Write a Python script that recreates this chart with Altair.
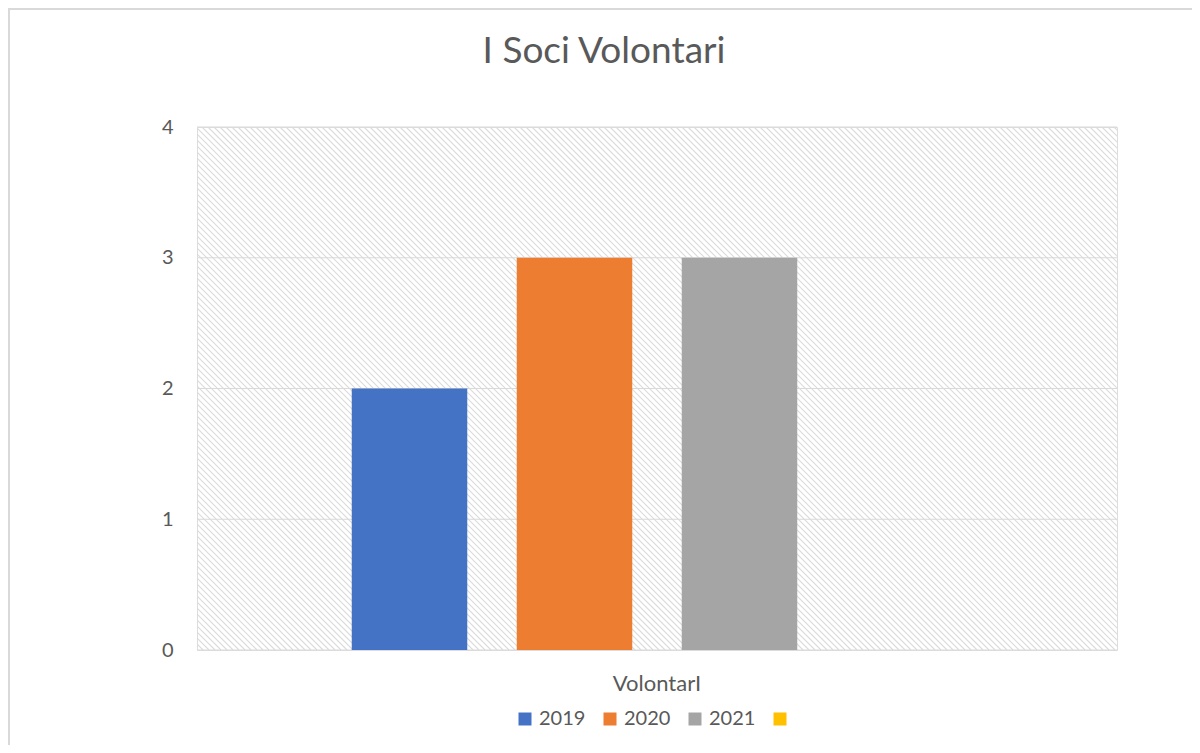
import altair as alt
import pandas as pd

# ---- data ----
categories = ["VolontarI"]
series = ["2019", "2020", "2021", ""]
values = [2, 3, 3, None]
colors = ["#4472C4", "#ED7D31", "#A5A5A5", "#FFC000"]
y_ticks = [0, 1, 2, 3, 4]

W, H = 920, 523
FONT = "Lato"
TXT = "#595959"
GRID = "#d9d9d9"

df = pd.DataFrame({"cat": categories * len(series), "serie": series, "val": values})

# hatch background (decorative diagonal lines in pixel space)
hatch = (
    alt.Chart(alt.sequence(0, W + H + 6, 6, as_="k"))
    .transform_calculate(x1=f"datum.k - {H}", y1="0", x2="datum.k", y2=f"{H}")
    .mark_rule(stroke="#dadada", strokeWidth=1.1, clip=True)
    .encode(
        x=alt.X("x1:Q", scale=None, axis=None),
        x2="x2:Q",
        y=alt.Y("y1:Q", scale=None, axis=None),
        y2="y2:Q",
    )
)

grid = (
    alt.Chart(pd.DataFrame({"t": y_ticks}))
    .mark_rule(stroke=GRID, strokeWidth=1)
    .encode(y=alt.Y("t:Q", scale=alt.Scale(domain=[0, 4]), axis=None))
)

bars = (
    alt.Chart(df)
    .mark_bar()
    .encode(
        x=alt.X(
            "cat:N",
            title=None,
            scale=alt.Scale(domain=categories, paddingInner=0, paddingOuter=0.2535),
            axis=alt.Axis(labelAngle=0, ticks=False, domain=False, labelPadding=23,
                          labelFont=FONT, labelFontSize=22, labelColor=TXT),
        ),
        xOffset=alt.XOffset("serie:N", scale=alt.Scale(domain=series, paddingInner=0.3, paddingOuter=0)),
        y=alt.Y(
            "val:Q",
            title=None,
            scale=alt.Scale(domain=[0, 4]),
            axis=alt.Axis(values=y_ticks, grid=False, ticks=False, domain=False, labelPadding=24,
                          labelFont=FONT, labelFontSize=20, labelColor=TXT, format="d"),
        ),
        color=alt.Color(
            "serie:N",
            scale=alt.Scale(domain=series, range=colors),
            legend=alt.Legend(
                title=None, orient="none", direction="horizontal", legendX=318, legendY=582,
                symbolType="square", symbolSize=169, symbolStrokeWidth=0, labelOffset=4,
                columnPadding=14, labelFont=FONT, labelFontSize=20, labelColor=TXT,
            ),
        ),
    )
)

frame_left = alt.Chart(pd.DataFrame({"a": [0]})).mark_rule(stroke=GRID, strokeWidth=2).encode(
    x=alt.value(-188), y=alt.value(-119), y2=alt.value(H + 120)
)
frame_top = alt.Chart(pd.DataFrame({"a": [0]})).mark_rule(stroke=GRID, strokeWidth=2).encode(
    x=alt.value(-188), x2=alt.value(W + 90), y=alt.value(-118)
)

chart = (
    alt.layer(frame_left, frame_top, hatch, grid, bars)
    .resolve_scale(x="independent", y="independent")
    .properties(
        width=W,
        height=H,
        autosize=alt.AutoSizeParams(type="none"),
        padding={"left": 189, "top": 119, "right": 75, "bottom": 95},
        title=alt.TitleParams(
            "I Soci Volontari", font=FONT, fontSize=37, fontWeight="normal", color=TXT,
            anchor="middle", baseline="alphabetic", offset=0, dy=93, dx=-53,
        ),
    )
    .configure_view(stroke=GRID, strokeWidth=1.5)
    .configure(background="white")
)

chart.save("out.html", embed_options={"renderer": "svg", "actions": False})
